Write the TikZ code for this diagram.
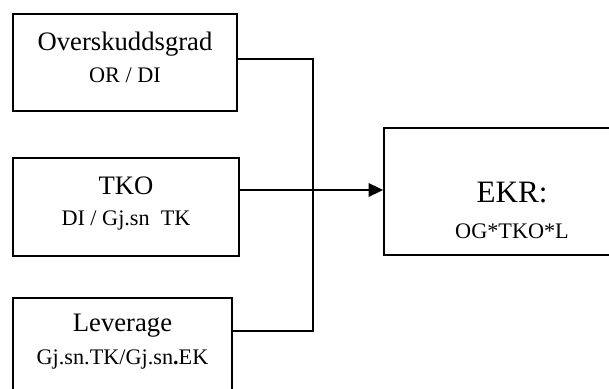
\documentclass[tikz,border=0pt]{standalone}
\usepackage{fontspec}
\setmainfont{Liberation Serif}
\usetikzlibrary{arrows.meta,%
		positioning}
\newcommand{\sottotesto}{\fontsize{10}{12}\selectfont}
\tikzset{boks/.style={draw, line width=.8pt, inner sep=0pt},
	testo/.style={align=center, inner sep=0pt, font=\fontsize{12}{14}\selectfont},
	linje/.style={line width=.9pt}}

\begin{document}
\begin{tikzpicture}[x=.45pt, y=-.45pt]
\path[use as bounding box, clip] (0,0) rectangle (609,389);
%Bokser
\node[boks, minimum width=100.8pt, minimum height=43.65pt] (og) at (125,62.5) {};
\node[boks, minimum width=101.7pt, minimum height=44.1pt] (tko) at (126,207) {};
\node[boks, minimum width=98.55pt, minimum height=43.65pt] (lev) at (122.5,346.5) {};
\node[boks, minimum width=115.2pt, minimum height=57.15pt] (ekr) at (512,191.5) {};
\node[testo, below=8.5pt of og.north] (ogt) {Overskuddsgrad\\{\sottotesto OR / DI}};
\node[testo, below=8.5pt of tko.north] (tkot) {TKO\\{\sottotesto DI / Gj.sn\ \ TK}};
\node[testo, below=7.6pt of lev.north] (levt) {Leverage\\[.5pt]{\sottotesto Gj.sn.TK/Gj.sn\textbf{.}EK}};
\node[testo, font=\fontsize{14}{16}\selectfont, below=24.75pt of ekr.north] (ekrt) {EKR:\\{\sottotesto OG*TKO*L}};
%Linjer
\coordinate (j) at (313,190);
\draw[linje] ([yshift=1.6pt]og.east) -| (j) |- ([yshift=7pt]lev.east);
\draw[line width=.6pt] (tko.east |- j) -- (j);
\draw[linje, -{Triangle[length=6.5pt, width=6pt]}] (j) -- (ekr.west |- j);
\end{tikzpicture}
\end{document}
